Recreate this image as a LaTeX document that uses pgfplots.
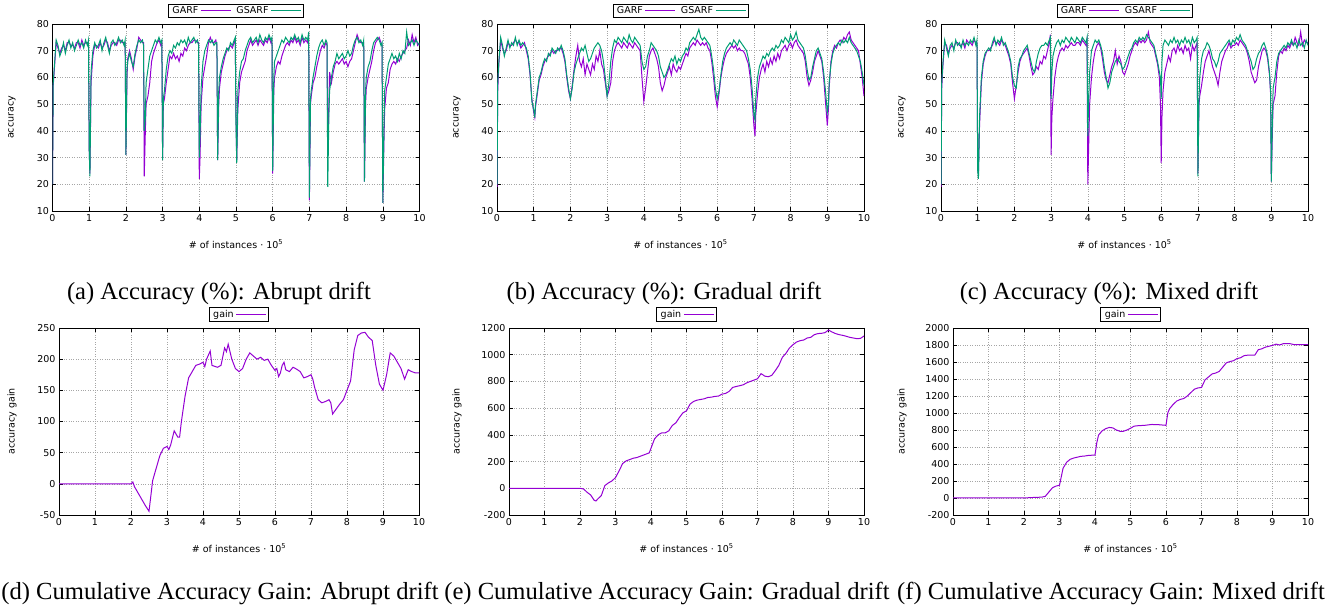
\documentclass[border=0pt]{standalone}
\usepackage{fontspec}
\setmainfont{DejaVu Sans}
\newfontfamily\capfont{Liberation Serif}
\usepackage{pgfplots}
\pgfplotsset{compat=1.18}

\definecolor{garf}{HTML}{9400D3}
\definecolor{gsarf}{HTML}{009E73}

\newcommand{\gpfont}{\fontsize{9.5}{11}\selectfont}
\newcommand{\capsize}{\capfont\fontsize{24.6}{28}\selectfont}

\pgfplotsset{
  gp/.style={
    scale only axis, height=187pt,
    xmin=0, xmax=10, xtick={0,...,10},
    xticklabels={0,1,2,3,4,5,6,7,8,9,10},
    grid=major,
    major grid style={dotted, black!35, line width=0.6pt},
    tick align=inside, major tick length=4pt,
    every tick/.style={black, line width=0.6pt},
    axis line style={line width=0.8pt},
    tick label style={font=\gpfont},
    xlabel={\# of instances · 10\textsuperscript{5}},
    xlabel style={at={([yshift=-33pt]axis description cs:0.5,0)}, anchor=center, font=\gpfont},
    legend style={at={(0.5,1)}, anchor=south, yshift=6pt, draw=black, line width=0.8pt,
      inner xsep=2pt, inner ysep=0.5pt, font=\gpfont,
      /tikz/every even column/.append style={column sep=3pt}},
    legend plot pos=right,
    legend columns=2,
    legend image code/.code={\draw[#1, line width=1pt] (0pt,0pt) -- (30pt,0pt);},
  },
  acc/.style={
    gp, width=367pt, ymin=10, ymax=80, ytick={10,20,...,80},
    yticklabels={10,20,30,40,50,60,70,80},
    ylabel={accuracy},
  },
  gline/.style={garf, line width=1pt},
  sline/.style={gsarf, line width=1pt},
}

\begin{document}
\begin{tikzpicture}
\path[use as bounding box] (0,0) rectangle (1328pt,609pt);

% (a) abrupt drift
\begin{axis}[acc, at={(52.5pt,398pt)}, anchor=south west,
  ylabel style={at={([xshift=-40.5pt]axis description cs:0,0.5)}, anchor=center, font=\gpfont}]
\addplot[gline] coordinates {
(0,20)(0.02,57)(0.05,63)(0.1,73)(0.15,71)(0.2,69)(0.25,71)(0.3,72)(0.35,70)(0.4,73)(0.45,73)(0.5,72)(0.55,72)(0.6,71)(0.65,73)(0.7,73)(0.75,71)(0.8,74)(0.85,72)(0.9,73)(0.95,73)(0.98,73)
(1.0,33)(1.02,24)(1.05,58)(1.1,68)(1.15,72)(1.2,72)(1.25,71)(1.3,73)(1.35,71)(1.4,72)(1.45,74)(1.5,73)(1.55,70)(1.6,72)(1.65,73)(1.7,73)(1.75,72)(1.8,74)(1.85,74)(1.9,73)(1.95,73)(1.98,73)
(2.0,31)(2.03,60)(2.05,67)(2.1,70)(2.15,67)(2.2,63)(2.25,68)(2.3,71)(2.35,75)(2.4,74)(2.45,73)(2.48,73)(2.5,23)(2.53,40)(2.55,50)(2.6,53)(2.65,58)(2.7,66)(2.75,69)(2.8,71)(2.85,73)(2.9,74)(2.95,72)(2.98,73)
(3.0,30)(3.02,50)(3.05,52)(3.1,58)(3.15,63)(3.2,68)(3.25,67)(3.3,69)(3.35,67)(3.4,68)(3.45,66)(3.5,69)(3.55,68)(3.6,71)(3.65,70)(3.7,72)(3.75,73)(3.8,73)(3.85,74)(3.9,74)(3.95,73)(3.98,73)
(4.0,22)(4.02,30)(4.05,50)(4.1,60)(4.15,64)(4.2,68)(4.25,73)(4.3,75)(4.35,73)(4.4,73)(4.45,74)(4.48,72)(4.5,29)(4.53,50)(4.55,56)(4.6,62)(4.65,65)(4.7,68)(4.75,70)(4.8,71)(4.85,72)(4.9,71)(4.95,73)(4.98,74)
(5.0,45)(5.02,29)(5.05,48)(5.1,58)(5.15,62)(5.2,64)(5.25,66)(5.3,70)(5.35,72)(5.4,74)(5.45,72)(5.5,73)(5.55,74)(5.6,72)(5.65,74)(5.7,73)(5.75,72)(5.8,74)(5.85,73)(5.9,75)(5.95,73)(5.98,74)
(6.0,24)(6.03,55)(6.05,60)(6.1,64)(6.15,66)(6.2,65)(6.25,68)(6.3,70)(6.35,72)(6.4,73)(6.45,72)(6.5,74)(6.55,73)(6.6,75)(6.65,73)(6.7,74)(6.75,72)(6.8,75)(6.85,73)(6.9,74)(6.95,73)(6.98,75)
(7.0,14)(7.03,50)(7.05,53)(7.1,58)(7.15,60)(7.2,64)(7.25,67)(7.3,70)(7.35,72)(7.4,71)(7.45,73)(7.48,72)(7.5,35)(7.53,50)(7.55,62)(7.6,58)(7.65,62)(7.7,65)(7.75,66)(7.8,65)(7.85,66)(7.9,67)(7.95,65)
(8.0,66)(8.05,64)(8.1,66)(8.15,67)(8.2,70)(8.25,73)(8.3,76)(8.35,74)(8.4,73)(8.45,73)(8.48,73)(8.5,21)(8.53,50)(8.55,56)(8.6,60)(8.65,63)(8.7,66)(8.75,70)(8.8,73)(8.85,74)(8.9,75)(8.95,73)(8.98,72)
(9.0,13)(9.03,35)(9.05,48)(9.1,56)(9.15,58)(9.2,63)(9.25,65)(9.3,66)(9.35,65)(9.4,67)(9.45,66)(9.5,68)(9.55,69)(9.6,70)(9.65,71)(9.7,74)(9.75,72)(9.8,76)(9.85,73)(9.9,75)(9.95,72)(10,73)
};
\addplot[sline] coordinates {
(0,20)(0.02,58)(0.05,64)(0.1,74)(0.15,72)(0.2,68)(0.25,70)(0.3,73)(0.35,69)(0.4,72)(0.45,74)(0.5,71)(0.55,73)(0.6,70)(0.65,72)(0.7,74)(0.75,72)(0.8,73)(0.85,71)(0.9,74)(0.95,72)(0.98,74)
(1.0,33)(1.02,23)(1.05,62)(1.1,70)(1.15,73)(1.2,71)(1.25,72)(1.3,74)(1.35,70)(1.4,73)(1.45,75)(1.5,72)(1.55,69)(1.6,73)(1.65,74)(1.7,72)(1.75,73)(1.8,75)(1.85,73)(1.9,74)(1.95,72)(1.98,74)
(2.0,31)(2.03,63)(2.05,66)(2.1,69)(2.15,66)(2.2,64)(2.25,69)(2.3,72)(2.35,74)(2.4,73)(2.45,74)(2.48,72)(2.5,40)(2.53,45)(2.55,58)(2.6,63)(2.65,68)(2.7,70)(2.75,72)(2.8,74)(2.85,73)(2.9,75)(2.95,73)(2.98,74)
(3.0,29)(3.02,52)(3.05,55)(3.1,63)(3.15,68)(3.2,70)(3.25,69)(3.3,72)(3.35,71)(3.4,73)(3.45,72)(3.5,74)(3.55,73)(3.6,74)(3.65,72)(3.7,75)(3.75,73)(3.8,74)(3.85,75)(3.9,73)(3.95,74)(3.98,72)
(4.0,30)(4.02,38)(4.05,56)(4.1,66)(4.15,70)(4.2,72)(4.25,74)(4.3,73)(4.35,74)(4.4,72)(4.45,73)(4.48,73)(4.5,29)(4.53,55)(4.55,60)(4.6,64)(4.65,67)(4.7,69)(4.75,71)(4.8,70)(4.85,73)(4.9,72)(4.95,74)(4.98,75)
(5.0,42)(5.02,28)(5.05,55)(5.1,62)(5.15,66)(5.2,67)(5.25,70)(5.3,72)(5.35,74)(5.4,75)(5.45,73)(5.5,74)(5.55,75)(5.6,73)(5.65,76)(5.7,74)(5.75,73)(5.8,75)(5.85,74)(5.9,76)(5.95,74)(5.98,75)
(6.0,25)(6.03,60)(6.05,66)(6.1,68)(6.15,70)(6.2,72)(6.25,74)(6.3,73)(6.35,75)(6.4,74)(6.45,73)(6.5,75)(6.55,74)(6.6,76)(6.65,74)(6.7,75)(6.75,73)(6.8,76)(6.85,74)(6.9,75)(6.95,74)(6.98,77)
(7.0,15)(7.03,52)(7.05,55)(7.1,60)(7.15,64)(7.2,68)(7.25,71)(7.3,73)(7.35,74)(7.4,72)(7.45,74)(7.48,73)(7.5,19)(7.53,45)(7.55,55)(7.6,60)(7.65,64)(7.7,66)(7.75,69)(7.8,67)(7.85,68)(7.9,69)(7.95,67)
(8.0,68)(8.05,70)(8.1,68)(8.15,69)(8.2,72)(8.25,74)(8.3,75)(8.35,73)(8.4,74)(8.45,72)(8.48,74)(8.5,21)(8.53,55)(8.55,60)(8.6,64)(8.65,66)(8.7,70)(8.75,73)(8.8,74)(8.85,75)(8.9,74)(8.95,72)(8.98,73)
(9.0,13)(9.03,40)(9.05,55)(9.1,60)(9.15,65)(9.2,67)(9.25,69)(9.3,67)(9.35,68)(9.4,66)(9.45,69)(9.5,67)(9.55,70)(9.6,69)(9.65,77)(9.7,72)(9.75,73)(9.8,74)(9.85,72)(9.9,74)(9.95,73)(10,72)
};
\legend{GARF,GSARF}
\end{axis}

% (b) gradual drift
\begin{axis}[acc, at={(497pt,398pt)}, anchor=south west,
  ylabel style={at={([xshift=-40pt]axis description cs:0,0.5)}, anchor=center, font=\gpfont}]
\addplot[gline] coordinates {
(0,19)(0.02,55)(0.05,65)(0.1,74)(0.15,71)(0.2,69)(0.25,70)(0.3,73)(0.35,72)(0.4,72)(0.45,73)(0.5,74)(0.55,73)(0.6,73)(0.65,71)(0.7,72)(0.75,73)(0.8,70)(0.85,67)(0.9,61)(0.95,52)
(1.0,47)(1.03,45)(1.05,49)(1.1,54)(1.15,59)(1.2,61)(1.25,64)(1.3,66)(1.35,67)(1.4,68)(1.45,69)(1.5,70)(1.55,69)(1.6,70)(1.65,70)(1.7,71)(1.75,71)(1.8,69)(1.85,66)(1.9,60)(1.95,55)
(2.0,52)(2.05,57)(2.1,63)(2.15,68)(2.2,72)(2.25,66)(2.3,64)(2.35,67)(2.4,61)(2.45,65)(2.5,63)(2.55,61)(2.6,65)(2.65,63)(2.7,68)(2.75,66)(2.8,70)(2.85,65)(2.9,63)(2.95,58)
(3.0,53)(3.05,55)(3.1,58)(3.15,66)(3.2,70)(3.25,72)(3.3,73)(3.35,72)(3.4,71)(3.45,73)(3.5,72)(3.55,71)(3.6,73)(3.65,72)(3.7,71)(3.75,73)(3.8,72)(3.85,71)(3.9,70)(3.95,60)
(4.0,51)(4.05,56)(4.1,62)(4.15,68)(4.2,70)(4.25,71)(4.3,69)(4.35,67)(4.4,64)(4.45,58)(4.5,55)(4.55,57)(4.6,60)(4.65,62)(4.7,64)(4.75,61)(4.8,65)(4.85,63)(4.9,62)(4.95,64)
(5.0,63)(5.05,65)(5.1,67)(5.15,69)(5.2,68)(5.25,71)(5.3,72)(5.35,73)(5.4,72)(5.45,74)(5.5,73)(5.55,72)(5.6,73)(5.65,72)(5.7,73)(5.75,71)(5.8,70)(5.85,66)(5.9,60)(5.95,53)
(6.0,49)(6.05,54)(6.1,60)(6.15,64)(6.2,67)(6.25,69)(6.3,70)(6.35,71)(6.4,72)(6.45,71)(6.5,72)(6.55,70)(6.6,71)(6.65,70)(6.7,70)(6.75,69)(6.8,67)(6.85,65)(6.9,60)(6.95,52)
(7.0,42)(7.03,38)(7.05,46)(7.1,54)(7.15,60)(7.2,63)(7.25,65)(7.3,62)(7.35,66)(7.4,64)(7.45,67)(7.5,65)(7.55,68)(7.6,66)(7.65,69)(7.7,67)(7.75,70)(7.8,71)(7.85,72)(7.9,70)(7.95,72)
(8.0,73)(8.05,71)(8.1,73)(8.15,74)(8.2,72)(8.25,71)(8.3,70)(8.35,69)(8.4,66)(8.45,60)(8.5,57)(8.55,59)(8.6,62)(8.65,66)(8.7,68)(8.75,70)(8.8,68)(8.85,66)(8.9,60)(8.95,51)
(9.0,42)(9.03,48)(9.05,56)(9.1,66)(9.15,70)(9.2,72)(9.25,71)(9.3,73)(9.35,74)(9.4,73)(9.45,75)(9.5,74)(9.55,76)(9.6,77)(9.65,74)(9.7,73)(9.75,72)(9.8,71)(9.85,70)(9.9,65)(9.95,60)(10,53)
};
\addplot[sline] coordinates {
(0,20)(0.02,58)(0.05,66)(0.1,75)(0.15,72)(0.2,68)(0.25,71)(0.3,74)(0.35,71)(0.4,73)(0.45,72)(0.5,75)(0.55,72)(0.6,74)(0.65,72)(0.7,73)(0.75,72)(0.8,71)(0.85,68)(0.9,62)(0.95,51)
(1.0,48)(1.03,45)(1.05,50)(1.1,55)(1.15,60)(1.2,62)(1.25,65)(1.3,67)(1.35,66)(1.4,69)(1.45,68)(1.5,71)(1.55,70)(1.6,69)(1.65,71)(1.7,70)(1.75,72)(1.8,70)(1.85,67)(1.9,61)(1.95,56)
(2.0,52)(2.05,56)(2.1,62)(2.15,65)(2.2,67)(2.25,69)(2.3,71)(2.35,70)(2.4,72)(2.45,69)(2.5,66)(2.55,67)(2.6,69)(2.65,71)(2.7,72)(2.75,73)(2.8,72)(2.85,70)(2.9,66)(2.95,60)
(3.0,53)(3.05,58)(3.1,66)(3.15,71)(3.2,74)(3.25,73)(3.3,75)(3.35,74)(3.4,73)(3.45,75)(3.5,74)(3.55,73)(3.6,76)(3.65,74)(3.7,73)(3.75,75)(3.8,74)(3.85,73)(3.9,72)(3.95,66)
(4.0,63)(4.05,64)(4.1,68)(4.15,70)(4.2,73)(4.25,72)(4.3,71)(4.35,70)(4.4,68)(4.45,64)(4.5,62)(4.55,60)(4.6,61)(4.65,63)(4.7,65)(4.75,67)(4.8,66)(4.85,68)(4.9,65)(4.95,67)
(5.0,66)(5.05,68)(5.1,69)(5.15,71)(5.2,70)(5.25,73)(5.3,74)(5.35,75)(5.4,74)(5.45,76)(5.5,78)(5.55,75)(5.6,74)(5.65,75)(5.7,74)(5.75,73)(5.8,72)(5.85,68)(5.9,63)(5.95,56)
(6.0,52)(6.05,55)(6.1,61)(6.15,66)(6.2,69)(6.25,71)(6.3,72)(6.35,73)(6.4,72)(6.45,74)(6.5,73)(6.55,72)(6.6,74)(6.65,73)(6.7,72)(6.75,71)(6.8,70)(6.85,67)(6.9,63)(6.95,56)
(7.0,46)(7.03,44)(7.05,52)(7.1,60)(7.15,64)(7.2,66)(7.25,68)(7.3,67)(7.35,69)(7.4,68)(7.45,70)(7.5,71)(7.55,70)(7.6,72)(7.65,71)(7.7,72)(7.75,74)(7.8,73)(7.85,75)(7.9,74)(7.95,73)
(8.0,76)(8.05,74)(8.1,75)(8.15,77)(8.2,74)(8.25,73)(8.3,72)(8.35,71)(8.4,68)(8.45,63)(8.5,59)(8.55,60)(8.6,64)(8.65,67)(8.7,70)(8.75,71)(8.8,69)(8.85,67)(8.9,62)(8.95,55)
(9.0,47)(9.03,50)(9.05,58)(9.1,65)(9.15,69)(9.2,71)(9.25,72)(9.3,73)(9.35,72)(9.4,74)(9.45,73)(9.5,74)(9.55,73)(9.6,75)(9.65,73)(9.7,72)(9.75,71)(9.8,70)(9.85,68)(9.9,66)(9.95,62)(10,57)
};
\legend{GARF,GSARF}
\end{axis}

% (c) mixed drift
\begin{axis}[acc, at={(941pt,398pt)}, anchor=south west,
  ylabel style={at={([xshift=-39pt]axis description cs:0,0.5)}, anchor=center, font=\gpfont}]
\addplot[gline] coordinates {
(0,19)(0.02,56)(0.05,64)(0.1,73)(0.15,72)(0.2,69)(0.25,71)(0.3,72)(0.35,71)(0.4,73)(0.45,73)(0.5,72)(0.55,72)(0.6,73)(0.65,71)(0.7,74)(0.75,73)(0.8,73)(0.85,72)(0.9,74)(0.95,73)(0.98,73)
(1.0,26)(1.02,24)(1.05,42)(1.1,58)(1.15,65)(1.2,68)(1.25,70)(1.3,70)(1.35,71)(1.4,72)(1.45,74)(1.5,73)(1.55,73)(1.6,72)(1.65,74)(1.7,73)(1.75,72)(1.8,70)(1.85,68)(1.9,65)(1.95,58)
(2.0,52)(2.05,57)(2.1,62)(2.15,66)(2.2,68)(2.25,69)(2.3,70)(2.35,71)(2.4,68)(2.45,64)(2.5,61)(2.55,62)(2.6,64)(2.65,63)(2.7,66)(2.75,65)(2.8,68)(2.85,67)(2.9,70)(2.95,73)(2.98,76)
(3.0,31)(3.02,45)(3.05,52)(3.1,60)(3.15,65)(3.2,68)(3.25,70)(3.3,71)(3.35,70)(3.4,72)(3.45,71)(3.5,72)(3.55,73)(3.6,72)(3.65,72)(3.7,73)(3.75,73)(3.8,72)(3.85,74)(3.9,73)(3.95,72)(3.98,74)
(4.0,20)(4.02,32)(4.05,50)(4.1,60)(4.15,66)(4.2,70)(4.25,72)(4.3,73)(4.35,71)(4.4,67)(4.45,62)(4.5,59)(4.55,58)(4.6,61)(4.65,64)(4.7,66)(4.75,70)(4.8,65)(4.85,68)(4.9,66)(4.95,62)
(5.0,61)(5.05,63)(5.1,65)(5.15,68)(5.2,70)(5.25,72)(5.3,73)(5.35,72)(5.4,74)(5.45,73)(5.5,74)(5.55,73)(5.6,74)(5.65,77)(5.7,73)(5.75,72)(5.8,71)(5.85,68)(5.9,65)(5.95,60)(5.98,50)
(6.0,28)(6.02,45)(6.05,55)(6.1,62)(6.15,65)(6.2,68)(6.25,66)(6.3,70)(6.35,71)(6.4,69)(6.45,72)(6.5,70)(6.55,71)(6.6,69)(6.65,72)(6.7,70)(6.75,71)(6.8,67)(6.85,72)(6.9,70)(6.95,72)(6.98,73)
(7.0,24)(7.03,50)(7.05,53)(7.1,57)(7.15,62)(7.2,66)(7.25,68)(7.3,70)(7.35,67)(7.4,64)(7.45,62)(7.5,60)(7.55,57)(7.6,62)(7.65,66)(7.7,68)(7.75,70)(7.8,71)(7.85,73)(7.9,71)(7.95,72)
(8.0,72)(8.05,73)(8.1,72)(8.15,74)(8.2,73)(8.25,72)(8.3,71)(8.35,69)(8.4,66)(8.45,62)(8.5,60)(8.55,58)(8.6,59)(8.65,64)(8.7,67)(8.75,70)(8.8,71)(8.85,70)(8.9,67)(8.95,61)(8.98,54)
(9.0,21)(9.03,40)(9.05,50)(9.1,53)(9.15,62)(9.2,68)(9.25,70)(9.3,69)(9.35,71)(9.4,70)(9.45,72)(9.5,71)(9.55,73)(9.6,72)(9.65,75)(9.7,73)(9.75,72)(9.8,77)(9.85,72)(9.9,74)(9.95,73)(10,73)
};
\addplot[sline] coordinates {
(0,20)(0.02,58)(0.05,65)(0.1,74)(0.15,71)(0.2,68)(0.25,72)(0.3,73)(0.35,70)(0.4,74)(0.45,72)(0.5,73)(0.55,71)(0.6,74)(0.65,72)(0.7,73)(0.75,72)(0.8,74)(0.85,73)(0.9,75)(0.95,72)(0.98,74)
(1.0,25)(1.02,22)(1.05,45)(1.1,60)(1.15,66)(1.2,69)(1.25,70)(1.3,71)(1.35,70)(1.4,73)(1.45,75)(1.5,72)(1.55,74)(1.6,73)(1.65,75)(1.7,72)(1.75,73)(1.8,71)(1.85,69)(1.9,66)(1.95,60)
(2.0,57)(2.05,56)(2.1,64)(2.15,67)(2.2,68)(2.25,70)(2.3,71)(2.35,72)(2.4,69)(2.45,66)(2.5,63)(2.55,62)(2.6,66)(2.65,69)(2.7,71)(2.75,72)(2.8,72)(2.85,73)(2.9,72)(2.95,74)(2.98,75)
(3.0,52)(3.02,62)(3.05,68)(3.1,71)(3.15,73)(3.2,74)(3.25,72)(3.3,74)(3.35,73)(3.4,75)(3.45,74)(3.5,73)(3.55,75)(3.6,74)(3.65,73)(3.7,75)(3.75,74)(3.8,73)(3.85,75)(3.9,74)(3.95,73)(3.98,75)
(4.0,38)(4.02,50)(4.05,62)(4.1,70)(4.15,72)(4.2,74)(4.25,73)(4.3,74)(4.35,72)(4.4,69)(4.45,64)(4.5,60)(4.55,56)(4.6,58)(4.65,62)(4.7,64)(4.75,66)(4.8,67)(4.85,66)(4.9,65)(4.95,63)
(5.0,64)(5.05,66)(5.1,68)(5.15,70)(5.2,71)(5.25,73)(5.3,74)(5.35,73)(5.4,75)(5.45,74)(5.5,75)(5.55,74)(5.6,76)(5.65,75)(5.7,74)(5.75,73)(5.8,72)(5.85,69)(5.9,66)(5.95,62)(5.98,60)
(6.0,52)(6.02,66)(6.05,72)(6.1,74)(6.15,73)(6.2,72)(6.25,74)(6.3,73)(6.35,75)(6.4,73)(6.45,74)(6.5,72)(6.55,74)(6.6,73)(6.65,75)(6.7,73)(6.75,74)(6.8,72)(6.85,75)(6.9,73)(6.95,74)(6.98,75)
(7.0,23)(7.03,52)(7.05,60)(7.1,67)(7.15,70)(7.2,71)(7.25,73)(7.3,72)(7.35,70)(7.4,67)(7.45,66)(7.5,64)(7.55,66)(7.6,69)(7.65,70)(7.7,71)(7.75,72)(7.8,73)(7.85,74)(7.9,72)(7.95,74)
(8.0,73)(8.05,75)(8.1,74)(8.15,76)(8.2,74)(8.25,73)(8.3,72)(8.35,70)(8.4,68)(8.45,66)(8.5,63)(8.55,64)(8.6,67)(8.65,69)(8.7,70)(8.75,72)(8.8,73)(8.85,71)(8.9,68)(8.95,62)(8.98,55)
(9.0,21)(9.03,45)(9.05,56)(9.1,60)(9.15,66)(9.2,69)(9.25,70)(9.3,71)(9.35,72)(9.4,71)(9.45,73)(9.5,72)(9.55,74)(9.6,72)(9.65,73)(9.7,71)(9.75,74)(9.8,72)(9.85,73)(9.9,71)(9.95,74)(10,72)
};
\legend{GARF,GSARF}
\end{axis}

% (d) cumulative gain, abrupt
\begin{axis}[gp, width=360pt, at={(59pt,94pt)}, anchor=south west,
  ymin=-50, ymax=250, ytick={-50,0,...,250},
  yticklabels={-50,0,50,100,150,200,250},
  ylabel={accuracy gain},
  ylabel style={at={([xshift=-47pt]axis description cs:0,0.5)}, anchor=center, font=\gpfont}]
\addplot[gline] coordinates {
(0,0)(1,0)(2,0)(2.05,3)(2.1,-5)(2.2,-15)(2.3,-25)(2.4,-35)(2.5,-44)(2.55,-20)(2.6,5)(2.7,25)(2.8,45)(2.9,57)(3.0,60)(3.05,55)(3.1,62)(3.2,85)(3.3,75)(3.35,75)(3.4,100)(3.5,140)(3.6,170)(3.7,180)(3.8,190)(3.9,192)
(4.0,195)(4.05,188)(4.1,200)(4.2,213)(4.25,190)(4.4,187)(4.5,190)(4.6,218)(4.65,212)(4.7,224)(4.8,200)(4.9,185)(5.0,180)(5.1,185)(5.2,200)(5.3,210)(5.4,205)(5.5,200)(5.6,203)(5.7,198)(5.8,200)(5.9,190)
(6.0,182)(6.05,185)(6.1,172)(6.15,178)(6.2,190)(6.25,195)(6.3,183)(6.4,180)(6.5,187)(6.6,184)(6.7,180)(6.8,170)(6.9,172)(7.0,175)(7.05,168)(7.1,155)(7.2,135)(7.3,130)(7.4,132)(7.5,135)(7.55,130)(7.6,112)(7.7,120)(7.8,128)(7.9,135)
(8.0,150)(8.1,165)(8.2,215)(8.3,238)(8.4,242)(8.5,243)(8.6,235)(8.7,230)(8.8,190)(8.9,160)(9.0,150)(9.1,175)(9.2,210)(9.3,205)(9.4,195)(9.5,185)(9.6,168)(9.7,183)(9.8,180)(9.9,178)(10,178)
};
\legend{gain}
\end{axis}

% (e) cumulative gain, gradual
\begin{axis}[gp, width=355pt, at={(509pt,94pt)}, anchor=south west,
  ymin=-200, ymax=1200, ytick={-200,0,...,1200},
  yticklabels={-200,0,200,400,600,800,1000,1200},
  ylabel={accuracy gain},
  ylabel style={at={([xshift=-52pt]axis description cs:0,0.5)}, anchor=center, font=\gpfont}]
\addplot[gline] coordinates {
(0,0)(1,0)(2,0)(2.1,-5)(2.2,-30)(2.3,-50)(2.4,-90)(2.45,-95)(2.5,-80)(2.6,-55)(2.7,20)(2.8,40)(2.9,55)(3.0,80)(3.1,130)(3.2,185)(3.3,205)(3.4,215)(3.5,225)(3.6,230)(3.7,240)(3.8,250)(3.9,260)(3.95,265)
(4.0,300)(4.1,370)(4.2,400)(4.3,415)(4.4,415)(4.5,430)(4.6,470)(4.7,490)(4.8,530)(4.9,565)(5.0,580)(5.1,630)(5.2,650)(5.3,660)(5.4,665)(5.5,670)(5.6,680)(5.7,682)(5.8,688)(5.9,690)
(6.0,705)(6.1,710)(6.2,725)(6.3,755)(6.4,762)(6.5,768)(6.6,775)(6.7,790)(6.8,800)(6.9,810)(7.0,820)(7.1,858)(7.15,850)(7.2,840)(7.3,835)(7.4,845)(7.5,880)(7.6,920)(7.7,980)(7.8,1010)(7.9,1050)
(8.0,1075)(8.1,1095)(8.2,1105)(8.3,1110)(8.4,1125)(8.5,1130)(8.6,1150)(8.7,1158)(8.8,1160)(8.9,1165)(9.0,1185)(9.1,1170)(9.2,1158)(9.3,1150)(9.4,1145)(9.5,1138)(9.6,1130)(9.7,1125)(9.8,1120)(9.9,1122)(10,1140)
};
\legend{gain}
\end{axis}

% (f) cumulative gain, mixed
\begin{axis}[gp, width=355pt, at={(953pt,94pt)}, anchor=south west,
  ymin=-200, ymax=2000, ytick={-200,0,...,2000},
  yticklabels={-200,0,200,400,600,800,1000,1200,1400,1600,1800,2000},
  ylabel={accuracy gain},
  ylabel style={at={([xshift=-51pt]axis description cs:0,0.5)}, anchor=center, font=\gpfont}]
\addplot[gline] coordinates {
(0,0)(1,0)(2,0)(2.2,5)(2.5,10)(2.6,20)(2.7,70)(2.8,120)(2.9,140)(3.0,150)(3.05,250)(3.1,350)(3.2,420)(3.3,455)(3.4,470)(3.5,480)(3.6,490)(3.7,493)(3.8,500)(3.9,503)
(4.0,505)(4.05,650)(4.1,740)(4.2,790)(4.3,815)(4.4,830)(4.5,825)(4.6,800)(4.7,785)(4.8,785)(4.9,800)(5.0,820)(5.1,845)(5.2,850)(5.4,855)(5.6,865)(5.8,862)
(6.0,855)(6.05,1000)(6.1,1050)(6.2,1100)(6.3,1140)(6.4,1160)(6.5,1170)(6.6,1200)(6.7,1240)(6.8,1280)(6.9,1295)(7.0,1300)(7.1,1390)(7.2,1425)(7.3,1460)(7.4,1470)(7.5,1490)(7.6,1540)(7.7,1590)(7.8,1605)(7.9,1615)
(8.0,1640)(8.1,1650)(8.2,1675)(8.3,1680)(8.4,1680)(8.5,1680)(8.6,1745)(8.7,1755)(8.8,1775)(8.9,1785)(9.0,1795)(9.1,1810)(9.2,1800)(9.3,1815)(9.4,1815)(9.5,1815)(9.6,1805)(9.7,1805)(9.8,1805)(9.9,1805)(10,1805)
};
\legend{gain}
\end{axis}

% captions
\node[anchor=base, font=\capsize] at (219pt,309pt) {(a) Accuracy (\%): Abrupt drift};
\node[anchor=base, font=\capsize] at (664pt,309pt) {(b) Accuracy (\%): Gradual drift};
\node[anchor=base, font=\capsize] at (1109pt,309pt) {(c) Accuracy (\%): Mixed drift};
\node[anchor=base, font=\capsize] at (220pt,9pt) {(d) Cumulative Accuracy Gain: Abrupt drift};
\node[anchor=base, font=\capsize] at (667pt,9pt) {(e) Cumulative Accuracy Gain: Gradual drift};
\node[anchor=base, font=\capsize] at (1111pt,9pt) {(f) Cumulative Accuracy Gain: Mixed drift};
\end{tikzpicture}
\end{document}
